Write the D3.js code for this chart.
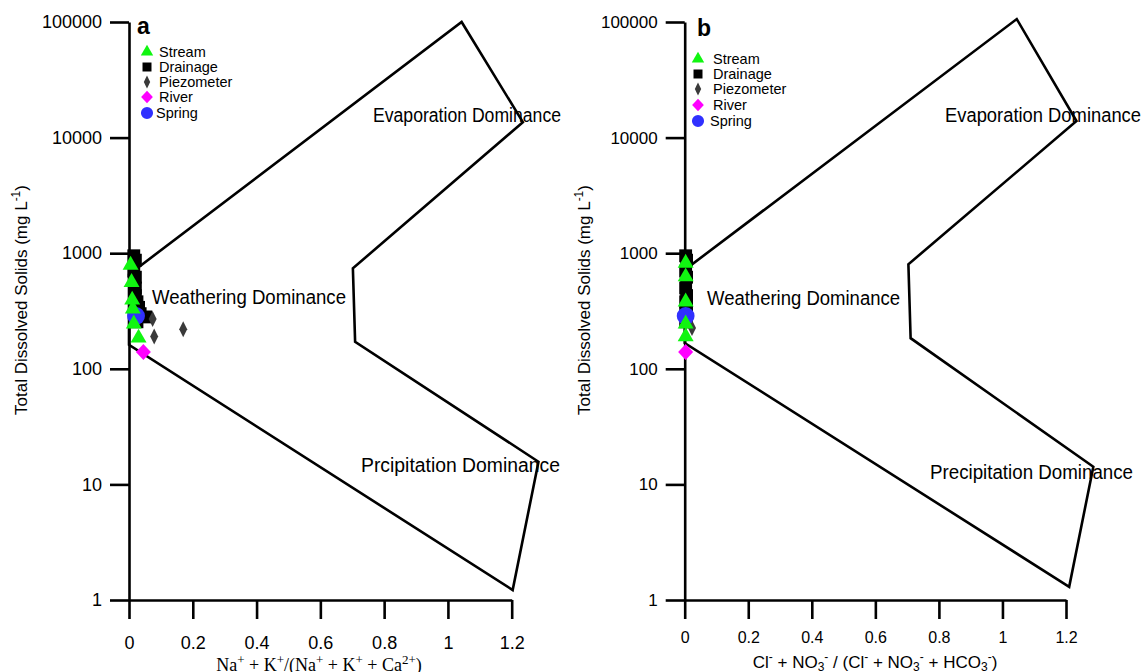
<!DOCTYPE html>
<html>
<head>
<meta charset="utf-8">
<script src="https://cdn.jsdelivr.net/npm/d3@7"></script>
<style>
  html, body { margin: 0; padding: 0; background: #fff; }
  svg { display: block; }
  text { font-family: "Liberation Sans", Arial, sans-serif; fill: #000; }
</style>
</head>
<body>
<svg id="chart" width="1143" height="672"></svg>
<script>
// ---------------- DATA ----------------
const yTickValues = [1, 10, 100, 1000, 10000, 100000];
const xTickValues = [0, 0.2, 0.4, 0.6, 0.8, 1, 1.2];
const seriesNames = ["Stream", "Drainage", "Piezometer", "River", "Spring"];

// Gibbs boundary polygons: [ratio, TDS]
const boundaryA = [[0, 655], [1.043, 100000], [1.235, 13600], [0.702, 740], [0.709, 171], [1.284, 15.7], [1.203, 1.22], [0, 161]];
const boundaryB = [[0, 717], [1.045, 106000], [1.233, 13900], [0.704, 802], [0.711, 184], [1.286, 14.2], [1.210, 1.30], [0, 167]];

// Panel a: Na+K / (Na+K+Ca) vs TDS
const streamA = [[0.005, 790], [0.008, 560], [0.01, 395], [0.012, 330], [0.015, 245], [0.03, 185]];
const drainageA = [[0.015, 950], [0.02, 870], [0.015, 700], [0.02, 620], [0.02, 500], [0.02, 430], [0.025, 380], [0.03, 340], [0.035, 300], [0.053, 281], [0.025, 255]];
const piezometerA = [[0.074, 270], [0.079, 190], [0.17, 220]];
const riverA = [[0.045, 140]];
const springA = [[0.022, 286]];

// Panel b: Cl+NO3 / (Cl+NO3+HCO3) vs TDS
const streamB = [[0.003, 822], [0.003, 627], [0.003, 380], [0.003, 245], [0.003, 190]];
const drainageB = [[0.003, 950], [0.006, 870], [0.003, 700], [0.006, 620], [0.003, 500], [0.006, 430], [0.003, 380], [0.006, 340], [0.003, 300], [0.006, 275], [0.003, 255]];
const piezometerB = [[0.023, 225]];
const riverB = [[0.003, 140]];
const springB = [[0.003, 286]];

// ---------------- DRAWING ----------------
const svg = d3.select("#chart");
const colors = { Stream: "#11f511", Drainage: "#000000", Piezometer: "#3a3a3a", River: "#ff00ff", Spring: "#3030ff" };

function diamond(w, h) {
  return `M0,${-h/2}L${w/2},0L0,${h/2}L${-w/2},0Z`;
}
const shapes = {
  Stream: (s) => d3.symbol(d3.symbolTriangle, 110 * s * s)(),
  Drainage: (s) => d3.symbol(d3.symbolSquare, 165 * s * s)(),
  Piezometer: (s) => diamond(8 * s, 16 * s),
  River: (s) => diamond(15 * s, 16 * s),
  Spring: (s) => d3.symbol(d3.symbolCircle, 250 * s * s)()
};

function panel(cfg) {
  const x = d3.scaleLinear().domain([0, 1.2]).range([cfg.x0, cfg.x1]);
  const y = d3.scaleLog().domain([1, 100000]).range([600, 22]);
  const g = svg.append("g");

  // boundary
  g.append("path")
    .attr("d", d3.line().x(d => x(d[0])).y(d => y(d[1]))(cfg.boundary) + "Z")
    .attr("fill", "none").attr("stroke", "#000").attr("stroke-width", 2.6)
    .attr("stroke-linejoin", "miter");

  // axes
  const yAxis = d3.axisLeft(y).tickValues(yTickValues).tickFormat(d3.format("d"))
    .tickSize(19).tickSizeOuter(0).tickPadding(8);
  const xAxis = d3.axisBottom(x).tickValues(xTickValues).tickFormat(d => d3.format("")(d))
    .tickSize(19).tickSizeOuter(0).tickPadding(cfg.xPad);
  const ya = g.append("g").attr("transform", `translate(${cfg.x0},0)`).call(yAxis);
  const xa = g.append("g").attr("transform", `translate(0,600)`).call(xAxis);
  [ya, xa].forEach(a => {
    a.select(".domain").attr("stroke", "#000").attr("stroke-width", 2.6);
    a.selectAll(".tick line").attr("stroke", "#000").attr("stroke-width", 2.6);
    a.selectAll("text").style("font-family", '"Liberation Sans", Arial, sans-serif').attr("fill", "#000");
  });
  ya.selectAll("text").style("font-size", cfg.yFont + "px");
  xa.selectAll("text").style("font-size", cfg.xFont + "px");

  // points
  const order = ["Drainage", "Piezometer", "Spring", "Stream", "River"];
  order.forEach(name => {
    g.append("g").selectAll("path").data(cfg.series[name]).join("path")
      .attr("transform", d => `translate(${x(d[0])},${y(d[1])})`)
      .attr("d", shapes[name](1))
      .attr("fill", colors[name]);
  });

  // region labels
  cfg.labels.forEach(l => {
    g.append("text").attr("x", l.x).attr("y", l.y)
      .attr("textLength", l.len).attr("lengthAdjust", "spacingAndGlyphs")
      .style("font-size", l.size + "px").text(l.text);
  });

  // panel letter
  g.append("text").attr("x", cfg.letter[0]).attr("y", cfg.letter[1])
    .style("font-size", "23px").style("font-weight", "bold").text(cfg.letterText);

  // legend
  const lg = g.append("g");
  seriesNames.forEach((name, i) => {
    const ry = cfg.legend.y[i];
    const s = name === "Drainage" ? 0.7 : (name === "Piezometer" ? 0.8 : (name === "Spring" ? 0.68 : 0.78));
    lg.append("path").attr("transform", `translate(${cfg.legend.mx},${ry})`)
      .attr("d", shapes[name](s)).attr("fill", colors[name]);
    lg.append("text").attr("x", name === "Spring" ? cfg.legend.tx - 3 : cfg.legend.tx).attr("y", ry + 5)
      .style("font-size", "14.5px").text(name);
  });

  // y title
  const yt = g.append("text")
    .attr("transform", `translate(${cfg.ytx},300) rotate(-90)`)
    .attr("text-anchor", "middle").style("font-size", cfg.ytFont + "px");
  yt.append("tspan").text("Total Dissolved Solids (mg L");
  yt.append("tspan").attr("dy", -7).style("font-size", (cfg.ytFont * 0.7) + "px").text("-1");
  yt.append("tspan").attr("dy", 7).text(")");

  return { x, y, g };
}

// Panel a
const pa = panel({
  x0: 129, x1: 511.7, boundary: boundaryA,
  series: { Stream: streamA, Drainage: drainageA, Piezometer: piezometerA, River: riverA, Spring: springA },
  xPad: 17, xFont: 18, yFont: 18,
  labels: [
    { text: "Evaporation Dominance", x: 373, y: 122, len: 188, size: 19.5 },
    { text: "Weathering Dominance", x: 152, y: 304, len: 194, size: 19.5 },
    { text: "Prcipitation Dominance", x: 361, y: 472, len: 199, size: 19.5 }
  ],
  letter: [137, 34], letterText: "a",
  legend: { mx: 147, tx: 159, y: [52, 67, 82, 97, 113] },
  ytx: 27, ytFont: 17
});

// Panel b
const pb = panel({
  x0: 684.7, x1: 1066, boundary: boundaryB,
  series: { Stream: streamB, Drainage: drainageB, Piezometer: piezometerB, River: riverB, Spring: springB },
  xPad: 13, xFont: 16, yFont: 17,
  labels: [
    { text: "Evaporation Dominance", x: 945, y: 122, len: 196, size: 19.5 },
    { text: "Weathering Dominance", x: 707, y: 305, len: 193, size: 19.5 },
    { text: "Precipitation Dominance", x: 930, y: 479, len: 203, size: 19.5 }
  ],
  letter: [697, 36], letterText: "b",
  legend: { mx: 698, tx: 713, y: [59, 74, 89, 105, 121] },
  ytx: 590, ytFont: 17
});

// x titles
const xtA = svg.append("text").attr("x", 319).attr("y", 671).attr("text-anchor", "middle")
  .style("font-family", '"Liberation Serif", "Times New Roman", serif').style("font-size", "18px");
[["Na", 0], ["+", 1], [" + K", 0], ["+", 1], ["/(Na", 0], ["+", 1], [" + K", 0], ["+", 1], [" + Ca", 0], ["2+", 1], [")", 0]]
  .forEach(([t, sup], i, arr) => {
    const prevSup = i > 0 && arr[i - 1][1] === 1;
    xtA.append("tspan").attr("dy", sup ? -7 : (prevSup ? 7 : 0))
      .style("font-size", sup ? "13px" : "18px").text(t);
  });

const xtB = svg.append("text").attr("x", 875).attr("y", 668).attr("text-anchor", "middle")
  .style("font-size", "17px");
// segments: [text, shift] shift: 0 normal, 1 sup, -1 sub
const segB = [["Cl", 0], ["-", 1], [" + NO", 0], ["3", -1], ["-", 1], [" / (Cl", 0], ["-", 1], [" + NO", 0], ["3", -1], ["-", 1], [" + HCO", 0], ["3", -1], ["-", 1], [")", 0]];
let cur = 0;
segB.forEach(([t, s]) => {
  const target = s === 1 ? -7 : (s === -1 ? 3 : 0);
  xtB.append("tspan").attr("dy", target - cur).style("font-size", s ? "12px" : "17px").text(t);
  cur = target;
});
</script>
</body>
</html>
